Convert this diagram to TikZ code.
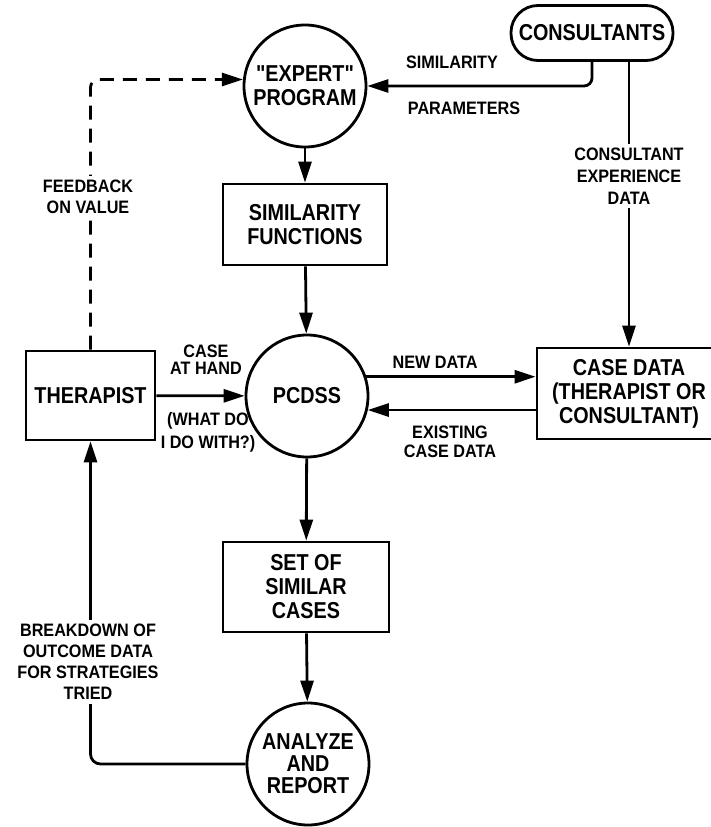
\documentclass[tikz,border=0pt]{standalone}
\usepackage{fontspec}
\newfontfamily\lett[FakeStretch=0.86]{Liberation Sans}
\newfontfamily\lettlbl[FakeStretch=0.9]{Liberation Sans}
\usetikzlibrary{arrows.meta,shapes.geometric}
\begin{document}
\begin{tikzpicture}[x=1pt,y=-1pt,
  line width=2.8pt,
  every node/.style={font=\lett\bfseries\fontsize{23}{24}\selectfont, align=center, inner sep=0pt},
  arr/.style={-{Triangle[length=21pt,width=13pt]}},
  box/.style={draw, rectangle},
  disc/.style={draw, circle, minimum size=122pt},
  lbl/.style={font=\lettlbl\bfseries\fontsize{18}{21}\selectfont, align=center},
  onl/.style={lbl, fill=white, inner ysep=4pt}]
\useasboundingbox (0,0) rectangle (711,827);

% blocks
\node[draw, rounded corners=27pt, minimum width=162pt, minimum height=55pt] (cons) at (592,33) {CONSULTANTS};
\node[disc] (expert) at (305,86) {"EXPERT"\\PROGRAM};
\node[box, minimum width=164pt, minimum height=81pt] (simf) at (305,224.5) {SIMILARITY\\FUNCTIONS};
\node[disc] (pcdss) at (307,396) {PCDSS};
\node[box, minimum width=129pt, minimum height=89pt] (ther) at (90.5,395.5) {THERAPIST};
\node[box, minimum width=184pt, minimum height=91pt] (cased) at (629,393.5) {CASE DATA\\(THERAPIST OR\\CONSULTANT)};
\node[box, minimum width=166pt, minimum height=90pt] (setc) at (306,587) {SET OF\\SIMILAR\\CASES};
\node[disc, font=\lett\bfseries\fontsize{23}{22}\selectfont] (anlz) at (308,764) {ANALYZE\\AND\\REPORT};

% flows
\draw[arr, rounded corners=8pt] (cons.south) |- (expert.east);
\draw[arr, dash pattern=on 14pt off 9pt, rounded corners=8pt] (ther.north) |- (expert.174);
\draw[arr] (expert) -- (simf);
\draw[arr] (simf) -- (pcdss);
\draw[arr] (cased.north |- cons.south) -- (cased.north);
\draw[arr] (ther) -- (pcdss);
\draw[arr] (pcdss.18) -- (pcdss.18 -| cased.west);
\draw[arr] (pcdss.-13 -| cased.west) -- (pcdss.-13);
\draw[arr] (pcdss) -- (setc);
\draw[arr] (setc) -- (anlz);
\draw[arr, rounded corners=10pt] (anlz.west) -| (ther.south);

% flow labels
\node[lbl] (lsim) at (452,62) {SIMILARITY};
\node[lbl] (lpar) at (464,108) {PARAMETERS};
\node[onl] (lfb) at (88,197) {FEEDBACK\\ON VALUE};
\node[onl, font=\lettlbl\bfseries\fontsize{18}{22}\selectfont] (lcex) at (629,176) {CONSULTANT\\EXPERIENCE\\DATA};
\node[lbl, font=\lettlbl\bfseries\fontsize{18}{17}\selectfont] (lcah) at (206,360) {CASE\\AT HAND};
\node[lbl, font=\lettlbl\bfseries\fontsize{18}{23}\selectfont] (lwd) at (208,432) {(WHAT DO\\I DO WITH?)};
\node[lbl] (lnew) at (435,362) {NEW DATA};
\node[lbl, font=\lettlbl\bfseries\fontsize{18}{19}\selectfont] (lexi) at (450,442) {EXISTING\\CASE DATA};
\node[onl] (lbrk) at (88,662) {BREAKDOWN OF\\OUTCOME DATA\\FOR STRATEGIES\\TRIED};
\end{tikzpicture}
\end{document}
